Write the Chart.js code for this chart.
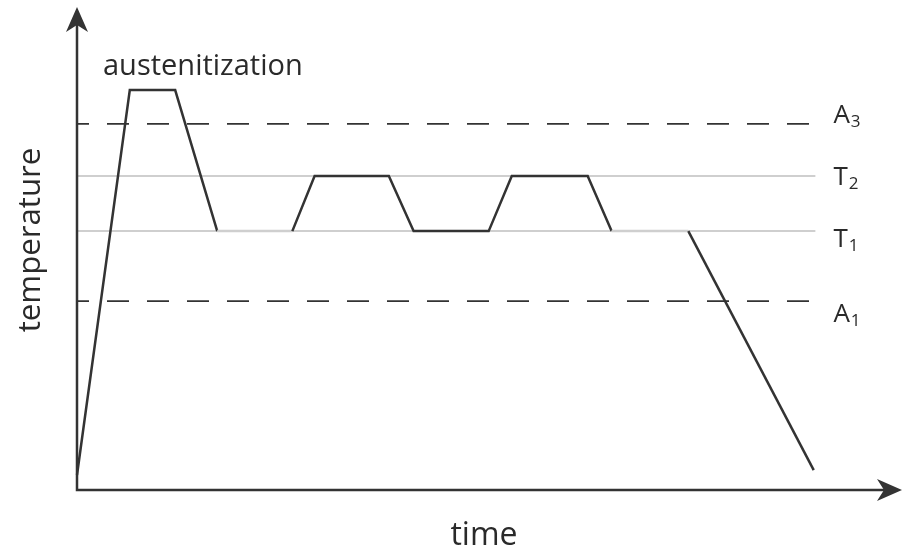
<!DOCTYPE html>
<html>
<head>
<meta charset="utf-8">
<script src="https://cdn.jsdelivr.net/npm/chart.js@4.4.1/dist/chart.umd.min.js"></script>
<style>
  html, body { margin: 0; padding: 0; background: #fff; }
  #wrap { width: 907px; height: 550px; }
</style>
</head>
<body>
<div id="wrap"><canvas id="myChart" width="907" height="550"></canvas></div>
<script>
// heat treatment profile (arbitrary units, 0..100 on both axes)
const timeSteps   = [0, 6.4, 11.9, 17.0, 26.1, 28.8, 37.8, 40.8, 49.9, 52.7, 61.9, 64.8, 74.1, 89.3];
const tempProfile = [3.1, 82.8, 82.8, 53.6, 53.6, 65.0, 65.0, 53.6, 53.6, 65.0, 65.0, 53.6, 53.6, 4.1];
// holds on T1 that only show as the light reference line
const fadedSegments = [3, 11];

// reference temperatures
const levelMain   = ['A', 'T', 'T', 'A'];
const levelSub    = ['3', '2', '1', '1'];
const levelValues = [75.8, 65.0, 53.6, 39.1];
const levelDashed = [true, false, false, true];
const levelEnd = 89.5;

const xTitle = 'time';
const yTitle = 'temperature';
const stageLabel = 'austenitization';

const ink = '#333333';
const light = '#cfcfcf';
const labelShift = [-1, 9, 16, 21];

const datasets = [{
    label: 'profile',
    data: timeSteps.map((t, i) => ({ x: t, y: tempProfile[i] })),
    borderColor: ink,
    borderWidth: 2.5,
    pointRadius: 0,
    tension: 0,
    clip: false,
    order: 0,
    segment: {
        borderColor: c => fadedSegments.includes(c.p0DataIndex) ? light : ink
    }
}];

levelValues.forEach(function (v, i) {
    datasets.push({
        label: levelMain[i] + levelSub[i],
        data: [{ x: 0, y: v }, { x: levelEnd, y: v }],
        borderColor: levelDashed[i] ? ink : light,
        borderWidth: levelDashed[i] ? 1.6 : 2,
        borderDash: levelDashed[i] ? [22, 18] : [],
        borderDashOffset: levelDashed[i] ? 10 : 0,
        pointRadius: 0,
        clip: false,
        order: 1
    });
});

function fitFont(ctx, text, width) {
    ctx.font = '20px "Open Sans"';
    const size = 20 * width / ctx.measureText(text).width;
    return size.toFixed(1) + 'px "Open Sans"';
}

const axesPlugin = {
    id: 'axesPlugin',
    afterDatasetsDraw(chart) {
        const ctx = chart.ctx;
        const a = chart.chartArea;
        const xs = chart.scales.x, ys = chart.scales.y;
        ctx.save();
        ctx.strokeStyle = ink;
        ctx.fillStyle = ink;
        ctx.lineWidth = 2.5;

        // axes
        ctx.beginPath();
        ctx.moveTo(a.left, a.top + 18);
        ctx.lineTo(a.left, a.bottom);
        ctx.lineTo(a.right - 18, a.bottom);
        ctx.stroke();

        // arrow heads
        ctx.beginPath();
        ctx.moveTo(a.left, a.top);
        ctx.lineTo(a.left + 11, a.top + 25);
        ctx.lineTo(a.left, a.top + 18);
        ctx.lineTo(a.left - 11, a.top + 25);
        ctx.closePath();
        ctx.fill();

        ctx.beginPath();
        ctx.moveTo(a.right, a.bottom);
        ctx.lineTo(a.right - 25, a.bottom - 11);
        ctx.lineTo(a.right - 18, a.bottom);
        ctx.lineTo(a.right - 25, a.bottom + 11);
        ctx.closePath();
        ctx.fill();

        // level labels with subscripts
        ctx.fillStyle = '#2a2a2a';
        ctx.textBaseline = 'alphabetic';
        ctx.textAlign = 'left';
        const lx = xs.getPixelForValue(levelEnd) + 18;
        levelValues.forEach(function (v, i) {
            const by = ys.getPixelForValue(v) + labelShift[i];
            ctx.font = '26px "Open Sans"';
            ctx.fillText(levelMain[i], lx, by);
            const w = ctx.measureText(levelMain[i]).width;
            ctx.font = '17px "Open Sans"';
            ctx.fillText(levelSub[i], lx + w + 1, by + 4);
        });

        // stage label
        ctx.font = fitFont(ctx, stageLabel, 200);
        ctx.fillText(stageLabel, a.left + 26, 75);

        // axis titles
        ctx.textAlign = 'center';
        ctx.font = fitFont(ctx, xTitle, 67);
        ctx.fillText(xTitle, 484, 545);

        ctx.save();
        ctx.translate(40, 240);
        ctx.rotate(-Math.PI / 2);
        ctx.font = fitFont(ctx, yTitle, 185);
        ctx.fillText(yTitle, 0, 0);
        ctx.restore();

        ctx.restore();
    }
};

new Chart(document.getElementById('myChart'), {
    type: 'line',
    data: { datasets: datasets },
    options: {
        responsive: false,
        animation: false,
        layout: { padding: { left: 77, right: 5, top: 7, bottom: 60 } },
        plugins: {
            legend: { display: false },
            tooltip: { enabled: false }
        },
        scales: {
            x: { type: 'linear', min: 0, max: 100, display: false },
            y: { type: 'linear', min: 0, max: 100, display: false }
        }
    },
    plugins: [axesPlugin]
});
</script>
</body>
</html>
